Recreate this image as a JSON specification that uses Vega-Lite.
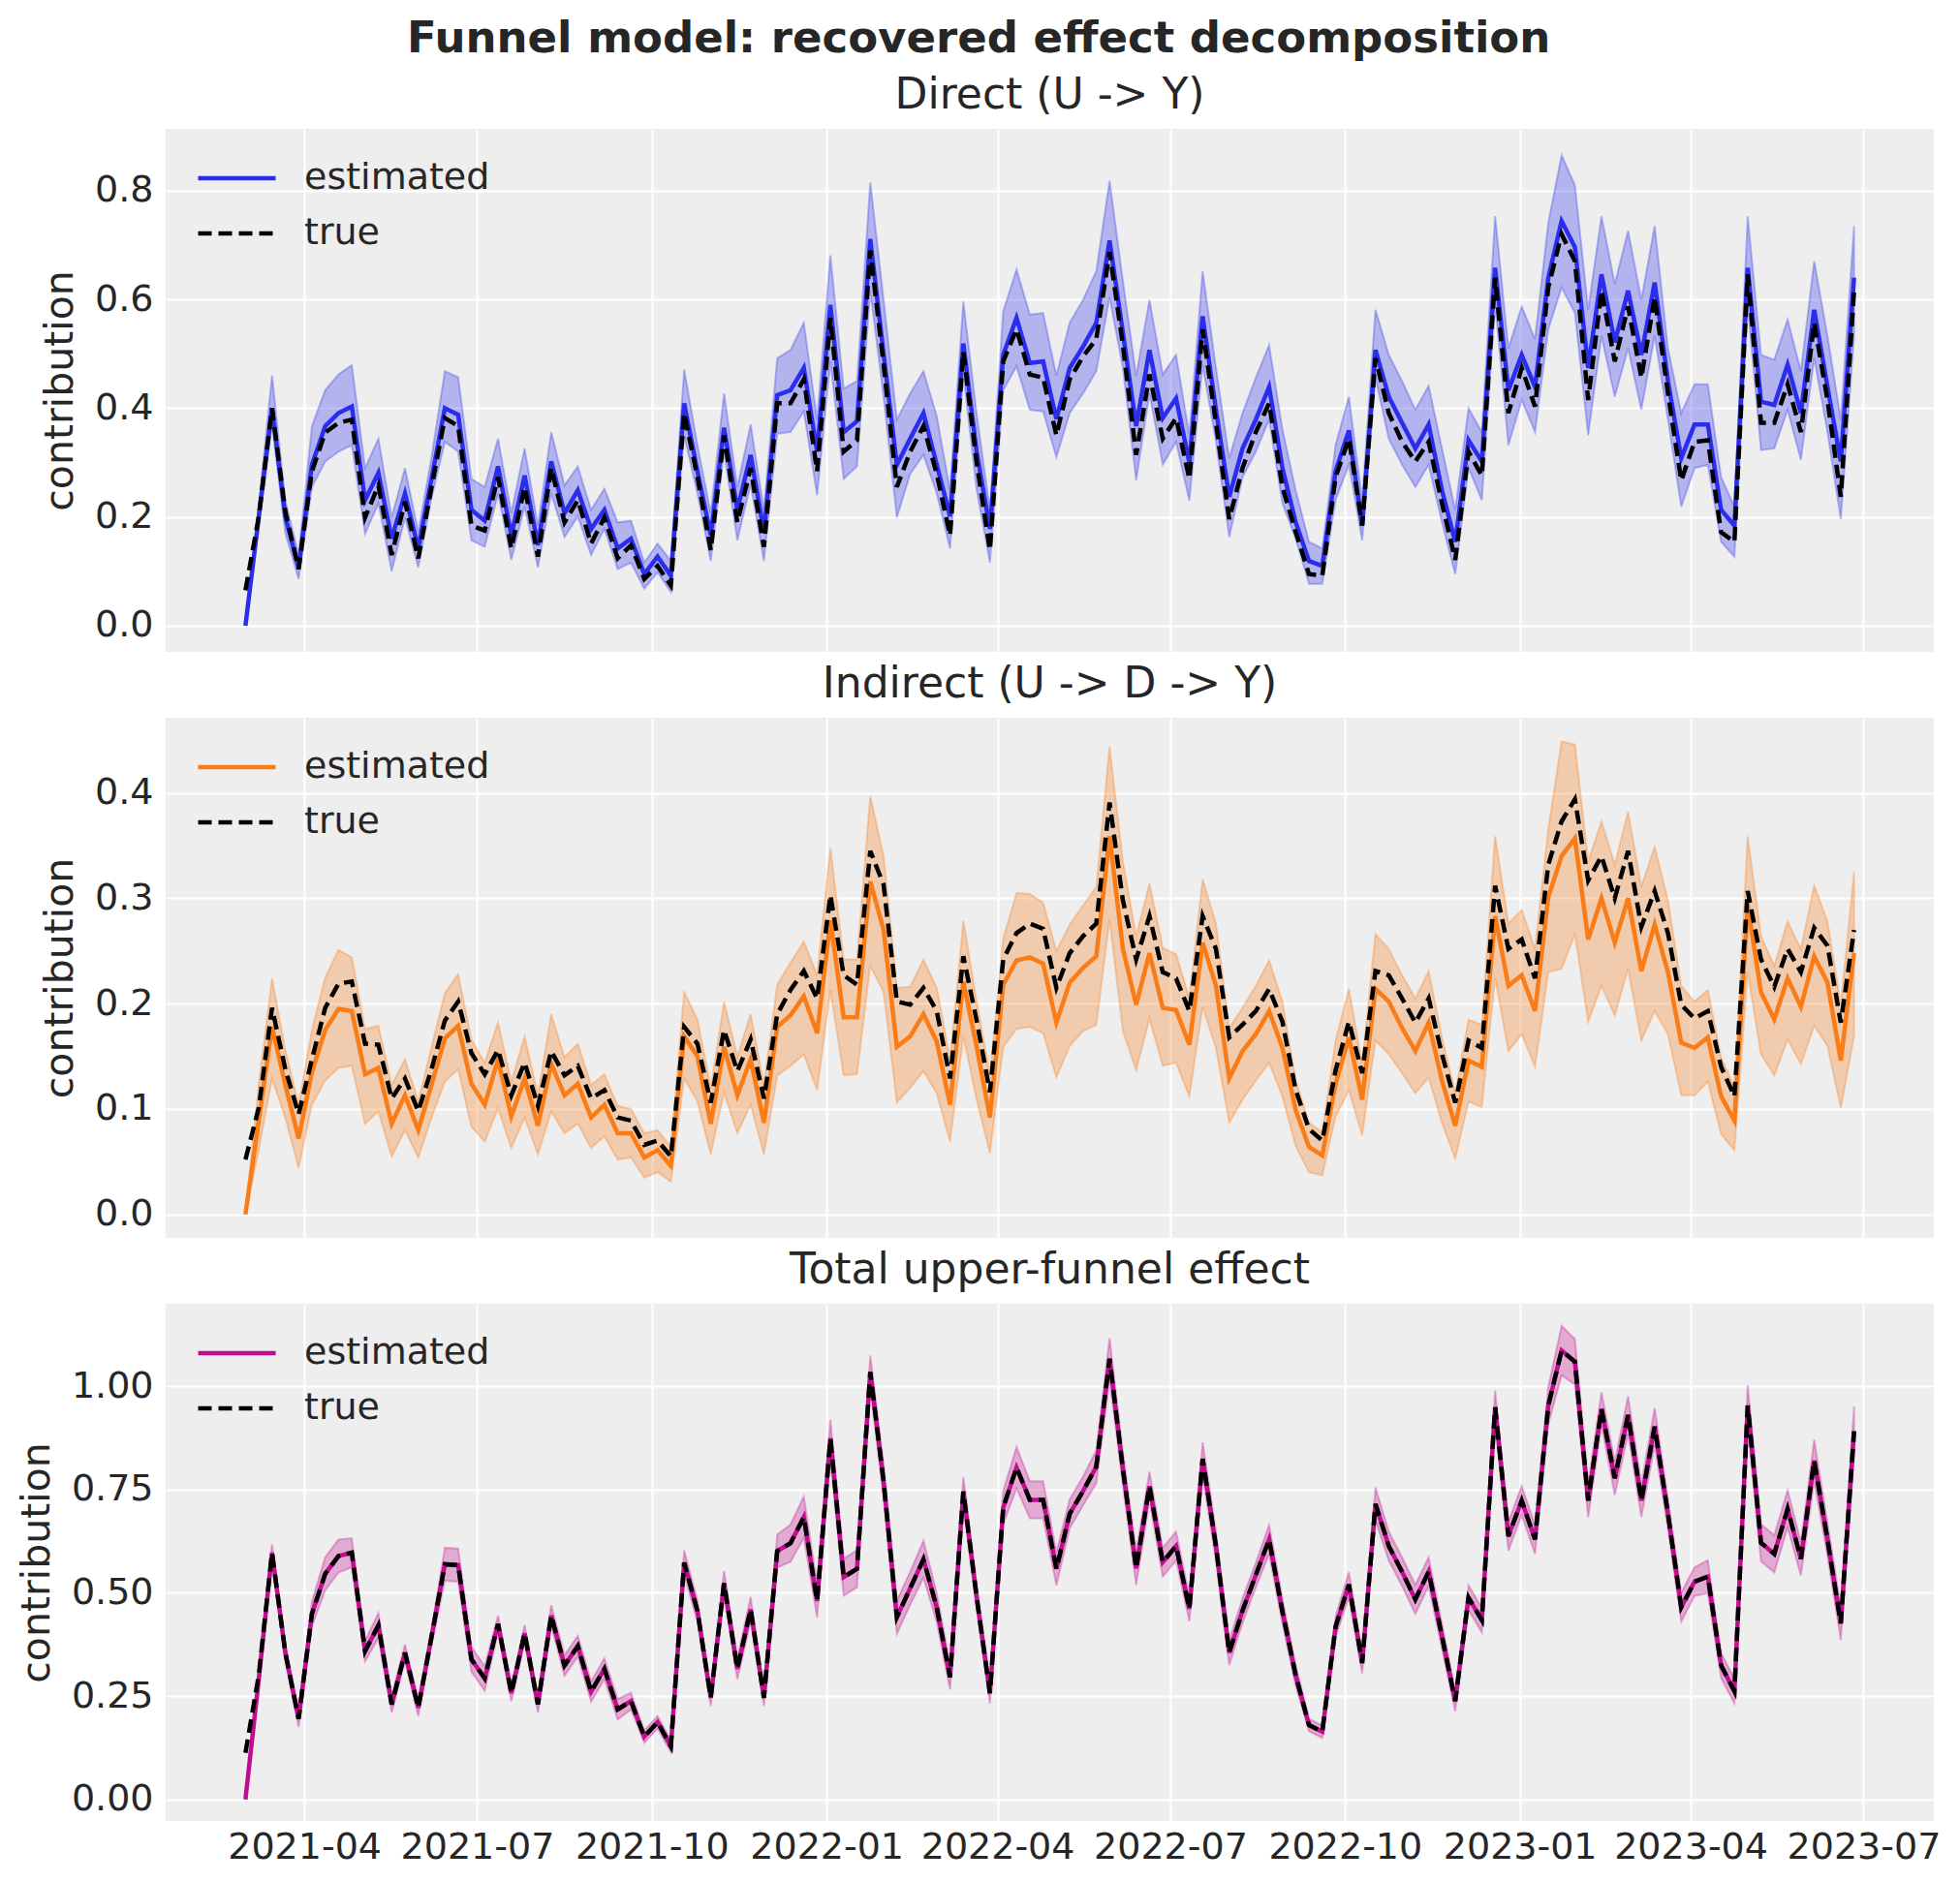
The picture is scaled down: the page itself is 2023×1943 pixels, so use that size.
{
  "$schema": "https://vega.github.io/schema/vega-lite/v6.json",
  "background": "white",
  "padding": {"left": 17, "top": 18, "right": 20, "bottom": 10},
  "title": {
    "text": "Funnel model: recovered effect decomposition",
    "fontSize": 45,
    "fontWeight": "bold",
    "anchor": "middle",
    "offset": 14
  },
  "datasets": {
    "direct": [
      {"date":"2021-03-01","estimated":0,"true":0.065,"lower":0,"upper":0.005},
      {"date":"2021-03-08","estimated":0.2,"true":0.2,"lower":0.18,"upper":0.22},
      {"date":"2021-03-15","estimated":0.4,"true":0.4,"lower":0.37,"upper":0.46},
      {"date":"2021-03-22","estimated":0.2,"true":0.21,"lower":0.17,"upper":0.23},
      {"date":"2021-03-29","estimated":0.107,"true":0.104,"lower":0.086,"upper":0.13},
      {"date":"2021-04-05","estimated":0.296,"true":0.284,"lower":0.255,"upper":0.367},
      {"date":"2021-04-12","estimated":0.367,"true":0.355,"lower":0.302,"upper":0.433},
      {"date":"2021-04-19","estimated":0.391,"true":0.373,"lower":0.32,"upper":0.462},
      {"date":"2021-04-26","estimated":0.403,"true":0.379,"lower":0.332,"upper":0.479},
      {"date":"2021-05-03","estimated":0.231,"true":0.199,"lower":0.169,"upper":0.29},
      {"date":"2021-05-10","estimated":0.281,"true":0.258,"lower":0.225,"upper":0.344},
      {"date":"2021-05-17","estimated":0.16,"true":0.13,"lower":0.1,"upper":0.199},
      {"date":"2021-05-24","estimated":0.243,"true":0.228,"lower":0.199,"upper":0.29},
      {"date":"2021-05-31","estimated":0.142,"true":0.124,"lower":0.107,"upper":0.172},
      {"date":"2021-06-07","estimated":0.27,"true":0.255,"lower":0.235,"upper":0.31},
      {"date":"2021-06-14","estimated":0.4,"true":0.382,"lower":0.338,"upper":0.468},
      {"date":"2021-06-21","estimated":0.388,"true":0.367,"lower":0.32,"upper":0.457},
      {"date":"2021-06-28","estimated":0.213,"true":0.184,"lower":0.157,"upper":0.27},
      {"date":"2021-07-05","estimated":0.193,"true":0.175,"lower":0.145,"upper":0.255},
      {"date":"2021-07-12","estimated":0.293,"true":0.273,"lower":0.243,"upper":0.344},
      {"date":"2021-07-19","estimated":0.166,"true":0.142,"lower":0.121,"upper":0.207},
      {"date":"2021-07-26","estimated":0.276,"true":0.255,"lower":0.219,"upper":0.326},
      {"date":"2021-08-02","estimated":0.148,"true":0.127,"lower":0.107,"upper":0.184},
      {"date":"2021-08-09","estimated":0.302,"true":0.29,"lower":0.243,"upper":0.356},
      {"date":"2021-08-16","estimated":0.207,"true":0.19,"lower":0.163,"upper":0.258},
      {"date":"2021-08-23","estimated":0.249,"true":0.231,"lower":0.201,"upper":0.293},
      {"date":"2021-08-30","estimated":0.178,"true":0.151,"lower":0.13,"upper":0.213},
      {"date":"2021-09-06","estimated":0.213,"true":0.199,"lower":0.178,"upper":0.252},
      {"date":"2021-09-13","estimated":0.142,"true":0.124,"lower":0.104,"upper":0.19},
      {"date":"2021-09-20","estimated":0.16,"true":0.148,"lower":0.116,"upper":0.193},
      {"date":"2021-09-27","estimated":0.095,"true":0.086,"lower":0.068,"upper":0.116},
      {"date":"2021-10-04","estimated":0.127,"true":0.11,"lower":0.098,"upper":0.151},
      {"date":"2021-10-11","estimated":0.092,"true":0.074,"lower":0.062,"upper":0.119},
      {"date":"2021-10-18","estimated":0.409,"true":0.391,"lower":0.35,"upper":0.471},
      {"date":"2021-10-25","estimated":0.284,"true":0.273,"lower":0.243,"upper":0.332},
      {"date":"2021-11-01","estimated":0.166,"true":0.139,"lower":0.119,"upper":0.207},
      {"date":"2021-11-08","estimated":0.364,"true":0.35,"lower":0.32,"upper":0.427},
      {"date":"2021-11-15","estimated":0.213,"true":0.19,"lower":0.157,"upper":0.255},
      {"date":"2021-11-22","estimated":0.314,"true":0.29,"lower":0.26,"upper":0.37},
      {"date":"2021-11-29","estimated":0.172,"true":0.145,"lower":0.119,"upper":0.213},
      {"date":"2021-12-06","estimated":0.424,"true":0.409,"lower":0.353,"upper":0.492},
      {"date":"2021-12-13","estimated":0.433,"true":0.409,"lower":0.356,"upper":0.507},
      {"date":"2021-12-20","estimated":0.474,"true":0.453,"lower":0.394,"upper":0.557},
      {"date":"2021-12-27","estimated":0.32,"true":0.284,"lower":0.24,"upper":0.379},
      {"date":"2022-01-03","estimated":0.59,"true":0.566,"lower":0.486,"upper":0.681},
      {"date":"2022-01-10","estimated":0.356,"true":0.32,"lower":0.27,"upper":0.436},
      {"date":"2022-01-17","estimated":0.376,"true":0.341,"lower":0.293,"upper":0.45},
      {"date":"2022-01-24","estimated":0.711,"true":0.69,"lower":0.616,"upper":0.815},
      {"date":"2022-01-31","estimated":0.5,"true":0.48,"lower":0.42,"upper":0.6},
      {"date":"2022-02-07","estimated":0.296,"true":0.255,"lower":0.199,"upper":0.379},
      {"date":"2022-02-14","estimated":0.344,"true":0.32,"lower":0.279,"upper":0.427},
      {"date":"2022-02-21","estimated":0.391,"true":0.367,"lower":0.314,"upper":0.468},
      {"date":"2022-02-28","estimated":0.296,"true":0.279,"lower":0.243,"upper":0.385},
      {"date":"2022-03-07","estimated":0.201,"true":0.166,"lower":0.142,"upper":0.249},
      {"date":"2022-03-14","estimated":0.519,"true":0.504,"lower":0.462,"upper":0.596},
      {"date":"2022-03-21","estimated":0.32,"true":0.3,"lower":0.25,"upper":0.39},
      {"date":"2022-03-28","estimated":0.178,"true":0.139,"lower":0.116,"upper":0.213},
      {"date":"2022-04-04","estimated":0.498,"true":0.486,"lower":0.433,"upper":0.578},
      {"date":"2022-04-11","estimated":0.566,"true":0.545,"lower":0.477,"upper":0.655},
      {"date":"2022-04-18","estimated":0.483,"true":0.462,"lower":0.397,"upper":0.572},
      {"date":"2022-04-25","estimated":0.486,"true":0.456,"lower":0.394,"upper":0.575},
      {"date":"2022-05-02","estimated":0.38,"true":0.35,"lower":0.31,"upper":0.46},
      {"date":"2022-05-09","estimated":0.474,"true":0.453,"lower":0.391,"upper":0.557},
      {"date":"2022-05-16","estimated":0.513,"true":0.495,"lower":0.427,"upper":0.599},
      {"date":"2022-05-23","estimated":0.557,"true":0.527,"lower":0.468,"upper":0.652},
      {"date":"2022-05-30","estimated":0.708,"true":0.687,"lower":0.604,"upper":0.818},
      {"date":"2022-06-06","estimated":0.539,"true":0.516,"lower":0.474,"upper":0.634},
      {"date":"2022-06-13","estimated":0.367,"true":0.314,"lower":0.267,"upper":0.459},
      {"date":"2022-06-20","estimated":0.507,"true":0.462,"lower":0.427,"upper":0.599},
      {"date":"2022-06-27","estimated":0.382,"true":0.344,"lower":0.296,"upper":0.462},
      {"date":"2022-07-04","estimated":0.418,"true":0.382,"lower":0.338,"upper":0.498},
      {"date":"2022-07-11","estimated":0.3,"true":0.27,"lower":0.23,"upper":0.35},
      {"date":"2022-07-18","estimated":0.569,"true":0.545,"lower":0.48,"upper":0.652},
      {"date":"2022-07-25","estimated":0.397,"true":0.373,"lower":0.338,"upper":0.474},
      {"date":"2022-08-01","estimated":0.237,"true":0.196,"lower":0.163,"upper":0.308},
      {"date":"2022-08-08","estimated":0.326,"true":0.29,"lower":0.273,"upper":0.391},
      {"date":"2022-08-15","estimated":0.379,"true":0.356,"lower":0.32,"upper":0.456},
      {"date":"2022-08-22","estimated":0.439,"true":0.409,"lower":0.379,"upper":0.516},
      {"date":"2022-08-29","estimated":0.29,"true":0.255,"lower":0.225,"upper":0.361},
      {"date":"2022-09-05","estimated":0.19,"true":0.172,"lower":0.16,"upper":0.249},
      {"date":"2022-09-12","estimated":0.119,"true":0.095,"lower":0.077,"upper":0.154},
      {"date":"2022-09-19","estimated":0.11,"true":0.092,"lower":0.077,"upper":0.142},
      {"date":"2022-09-26","estimated":0.284,"true":0.273,"lower":0.231,"upper":0.332},
      {"date":"2022-10-03","estimated":0.359,"true":0.344,"lower":0.296,"upper":0.421},
      {"date":"2022-10-10","estimated":0.184,"true":0.184,"lower":0.157,"upper":0.231},
      {"date":"2022-10-17","estimated":0.507,"true":0.492,"lower":0.456,"upper":0.581},
      {"date":"2022-10-24","estimated":0.421,"true":0.391,"lower":0.344,"upper":0.498},
      {"date":"2022-10-31","estimated":0.373,"true":0.338,"lower":0.296,"upper":0.45},
      {"date":"2022-11-07","estimated":0.326,"true":0.302,"lower":0.255,"upper":0.397},
      {"date":"2022-11-14","estimated":0.37,"true":0.338,"lower":0.296,"upper":0.441},
      {"date":"2022-11-21","estimated":0.249,"true":0.225,"lower":0.19,"upper":0.326},
      {"date":"2022-11-28","estimated":0.154,"true":0.121,"lower":0.095,"upper":0.213},
      {"date":"2022-12-05","estimated":0.341,"true":0.32,"lower":0.29,"upper":0.4},
      {"date":"2022-12-12","estimated":0.302,"true":0.276,"lower":0.231,"upper":0.356},
      {"date":"2022-12-19","estimated":0.658,"true":0.64,"lower":0.593,"upper":0.753},
      {"date":"2022-12-26","estimated":0.433,"true":0.391,"lower":0.332,"upper":0.51},
      {"date":"2023-01-02","estimated":0.498,"true":0.474,"lower":0.415,"upper":0.587},
      {"date":"2023-01-09","estimated":0.439,"true":0.403,"lower":0.356,"upper":0.527},
      {"date":"2023-01-16","estimated":0.64,"true":0.622,"lower":0.545,"upper":0.741},
      {"date":"2023-01-23","estimated":0.744,"true":0.72,"lower":0.622,"upper":0.865},
      {"date":"2023-01-30","estimated":0.696,"true":0.67,"lower":0.575,"upper":0.81},
      {"date":"2023-02-06","estimated":0.474,"true":0.415,"lower":0.35,"upper":0.581},
      {"date":"2023-02-13","estimated":0.646,"true":0.616,"lower":0.533,"upper":0.753},
      {"date":"2023-02-20","estimated":0.521,"true":0.486,"lower":0.421,"upper":0.628},
      {"date":"2023-02-27","estimated":0.616,"true":0.587,"lower":0.51,"upper":0.726},
      {"date":"2023-03-06","estimated":0.498,"true":0.456,"lower":0.397,"upper":0.599},
      {"date":"2023-03-13","estimated":0.631,"true":0.604,"lower":0.533,"upper":0.735},
      {"date":"2023-03-20","estimated":0.45,"true":0.427,"lower":0.379,"upper":0.51},
      {"date":"2023-03-27","estimated":0.308,"true":0.267,"lower":0.219,"upper":0.391},
      {"date":"2023-04-03","estimated":0.37,"true":0.338,"lower":0.29,"upper":0.444},
      {"date":"2023-04-10","estimated":0.37,"true":0.341,"lower":0.296,"upper":0.444},
      {"date":"2023-04-17","estimated":0.213,"true":0.172,"lower":0.154,"upper":0.273},
      {"date":"2023-04-24","estimated":0.184,"true":0.154,"lower":0.127,"upper":0.219},
      {"date":"2023-05-01","estimated":0.658,"true":0.646,"lower":0.587,"upper":0.753},
      {"date":"2023-05-08","estimated":0.412,"true":0.373,"lower":0.323,"upper":0.498},
      {"date":"2023-05-15","estimated":0.406,"true":0.373,"lower":0.326,"upper":0.489},
      {"date":"2023-05-22","estimated":0.48,"true":0.444,"lower":0.397,"upper":0.563},
      {"date":"2023-05-29","estimated":0.391,"true":0.356,"lower":0.305,"upper":0.468},
      {"date":"2023-06-05","estimated":0.581,"true":0.557,"lower":0.492,"upper":0.67},
      {"date":"2023-06-12","estimated":0.439,"true":0.415,"lower":0.356,"upper":0.533},
      {"date":"2023-06-19","estimated":0.302,"true":0.237,"lower":0.196,"upper":0.379},
      {"date":"2023-06-26","estimated":0.64,"true":0.616,"lower":0.533,"upper":0.735}
    ],
    "indirect": [
      {"date":"2021-03-01","estimated":0,"true":0.052,"lower":0,"upper":0.003},
      {"date":"2021-03-08","estimated":0.089,"true":0.101,"lower":0.061,"upper":0.123},
      {"date":"2021-03-15","estimated":0.178,"true":0.196,"lower":0.129,"upper":0.224},
      {"date":"2021-03-22","estimated":0.123,"true":0.138,"lower":0.092,"upper":0.156},
      {"date":"2021-03-29","estimated":0.072,"true":0.095,"lower":0.044,"upper":0.104},
      {"date":"2021-04-05","estimated":0.135,"true":0.147,"lower":0.104,"upper":0.175},
      {"date":"2021-04-12","estimated":0.175,"true":0.196,"lower":0.127,"upper":0.225},
      {"date":"2021-04-19","estimated":0.195,"true":0.219,"lower":0.139,"upper":0.251},
      {"date":"2021-04-26","estimated":0.193,"true":0.221,"lower":0.141,"upper":0.244},
      {"date":"2021-05-03","estimated":0.133,"true":0.162,"lower":0.086,"upper":0.176},
      {"date":"2021-05-10","estimated":0.139,"true":0.161,"lower":0.098,"upper":0.179},
      {"date":"2021-05-17","estimated":0.086,"true":0.11,"lower":0.055,"upper":0.123},
      {"date":"2021-05-24","estimated":0.113,"true":0.129,"lower":0.08,"upper":0.147},
      {"date":"2021-05-31","estimated":0.08,"true":0.098,"lower":0.054,"upper":0.107},
      {"date":"2021-06-07","estimated":0.123,"true":0.138,"lower":0.092,"upper":0.159},
      {"date":"2021-06-14","estimated":0.167,"true":0.184,"lower":0.126,"upper":0.21},
      {"date":"2021-06-21","estimated":0.179,"true":0.202,"lower":0.138,"upper":0.228},
      {"date":"2021-06-28","estimated":0.124,"true":0.153,"lower":0.083,"upper":0.166},
      {"date":"2021-07-05","estimated":0.104,"true":0.133,"lower":0.069,"upper":0.144},
      {"date":"2021-07-12","estimated":0.147,"true":0.156,"lower":0.101,"upper":0.182},
      {"date":"2021-07-19","estimated":0.093,"true":0.113,"lower":0.063,"upper":0.126},
      {"date":"2021-07-26","estimated":0.129,"true":0.144,"lower":0.092,"upper":0.169},
      {"date":"2021-08-02","estimated":0.084,"true":0.103,"lower":0.057,"upper":0.113},
      {"date":"2021-08-09","estimated":0.143,"true":0.155,"lower":0.098,"upper":0.19},
      {"date":"2021-08-16","estimated":0.113,"true":0.132,"lower":0.077,"upper":0.149},
      {"date":"2021-08-23","estimated":0.124,"true":0.141,"lower":0.086,"upper":0.162},
      {"date":"2021-08-30","estimated":0.092,"true":0.11,"lower":0.063,"upper":0.123},
      {"date":"2021-09-06","estimated":0.104,"true":0.118,"lower":0.074,"upper":0.133},
      {"date":"2021-09-13","estimated":0.077,"true":0.092,"lower":0.052,"upper":0.103},
      {"date":"2021-09-20","estimated":0.077,"true":0.089,"lower":0.054,"upper":0.1},
      {"date":"2021-09-27","estimated":0.054,"true":0.066,"lower":0.035,"upper":0.077},
      {"date":"2021-10-04","estimated":0.061,"true":0.07,"lower":0.04,"upper":0.08},
      {"date":"2021-10-11","estimated":0.046,"true":0.055,"lower":0.031,"upper":0.064},
      {"date":"2021-10-18","estimated":0.169,"true":0.178,"lower":0.129,"upper":0.211},
      {"date":"2021-10-25","estimated":0.15,"true":0.162,"lower":0.107,"upper":0.185},
      {"date":"2021-11-01","estimated":0.086,"true":0.106,"lower":0.057,"upper":0.12},
      {"date":"2021-11-08","estimated":0.159,"true":0.175,"lower":0.116,"upper":0.202},
      {"date":"2021-11-15","estimated":0.113,"true":0.136,"lower":0.077,"upper":0.15},
      {"date":"2021-11-22","estimated":0.147,"true":0.166,"lower":0.104,"upper":0.19},
      {"date":"2021-11-29","estimated":0.087,"true":0.11,"lower":0.057,"upper":0.123},
      {"date":"2021-12-06","estimated":0.178,"true":0.19,"lower":0.132,"upper":0.218},
      {"date":"2021-12-13","estimated":0.189,"true":0.213,"lower":0.141,"upper":0.239},
      {"date":"2021-12-20","estimated":0.207,"true":0.231,"lower":0.152,"upper":0.259},
      {"date":"2021-12-27","estimated":0.172,"true":0.205,"lower":0.118,"upper":0.227},
      {"date":"2022-01-03","estimated":0.279,"true":0.303,"lower":0.213,"upper":0.348},
      {"date":"2022-01-10","estimated":0.187,"true":0.227,"lower":0.132,"upper":0.242},
      {"date":"2022-01-17","estimated":0.187,"true":0.218,"lower":0.133,"upper":0.242},
      {"date":"2022-01-24","estimated":0.316,"true":0.345,"lower":0.236,"upper":0.397},
      {"date":"2022-01-31","estimated":0.27,"true":0.313,"lower":0.211,"upper":0.34},
      {"date":"2022-02-07","estimated":0.159,"true":0.202,"lower":0.106,"upper":0.215},
      {"date":"2022-02-14","estimated":0.169,"true":0.199,"lower":0.12,"upper":0.216},
      {"date":"2022-02-21","estimated":0.19,"true":0.215,"lower":0.136,"upper":0.242},
      {"date":"2022-02-28","estimated":0.164,"true":0.193,"lower":0.115,"upper":0.215},
      {"date":"2022-03-07","estimated":0.104,"true":0.129,"lower":0.069,"upper":0.147},
      {"date":"2022-03-14","estimated":0.221,"true":0.245,"lower":0.169,"upper":0.279},
      {"date":"2022-03-21","estimated":0.159,"true":0.184,"lower":0.109,"upper":0.202},
      {"date":"2022-03-28","estimated":0.092,"true":0.116,"lower":0.058,"upper":0.132},
      {"date":"2022-04-04","estimated":0.218,"true":0.242,"lower":0.159,"upper":0.262},
      {"date":"2022-04-11","estimated":0.241,"true":0.267,"lower":0.176,"upper":0.305},
      {"date":"2022-04-18","estimated":0.244,"true":0.276,"lower":0.178,"upper":0.304},
      {"date":"2022-04-25","estimated":0.238,"true":0.271,"lower":0.172,"upper":0.296},
      {"date":"2022-05-02","estimated":0.182,"true":0.215,"lower":0.13,"upper":0.25},
      {"date":"2022-05-09","estimated":0.22,"true":0.248,"lower":0.16,"upper":0.275},
      {"date":"2022-05-16","estimated":0.234,"true":0.264,"lower":0.174,"upper":0.293},
      {"date":"2022-05-23","estimated":0.245,"true":0.276,"lower":0.18,"upper":0.311},
      {"date":"2022-05-30","estimated":0.359,"true":0.391,"lower":0.28,"upper":0.444},
      {"date":"2022-06-06","estimated":0.252,"true":0.298,"lower":0.174,"upper":0.335},
      {"date":"2022-06-13","estimated":0.199,"true":0.242,"lower":0.137,"upper":0.264},
      {"date":"2022-06-20","estimated":0.248,"true":0.283,"lower":0.186,"upper":0.314},
      {"date":"2022-06-27","estimated":0.196,"true":0.23,"lower":0.141,"upper":0.253},
      {"date":"2022-07-04","estimated":0.194,"true":0.224,"lower":0.144,"upper":0.247},
      {"date":"2022-07-11","estimated":0.161,"true":0.193,"lower":0.112,"upper":0.205},
      {"date":"2022-07-18","estimated":0.258,"true":0.283,"lower":0.197,"upper":0.318},
      {"date":"2022-07-25","estimated":0.217,"true":0.252,"lower":0.158,"upper":0.276},
      {"date":"2022-08-01","estimated":0.129,"true":0.168,"lower":0.087,"upper":0.177},
      {"date":"2022-08-08","estimated":0.155,"true":0.18,"lower":0.109,"upper":0.196},
      {"date":"2022-08-15","estimated":0.171,"true":0.193,"lower":0.127,"upper":0.217},
      {"date":"2022-08-22","estimated":0.193,"true":0.214,"lower":0.144,"upper":0.241},
      {"date":"2022-08-29","estimated":0.158,"true":0.183,"lower":0.112,"upper":0.202},
      {"date":"2022-09-05","estimated":0.099,"true":0.118,"lower":0.065,"upper":0.127},
      {"date":"2022-09-12","estimated":0.064,"true":0.081,"lower":0.04,"upper":0.087},
      {"date":"2022-09-19","estimated":0.056,"true":0.07,"lower":0.037,"upper":0.078},
      {"date":"2022-09-26","estimated":0.124,"true":0.137,"lower":0.093,"upper":0.165},
      {"date":"2022-10-03","estimated":0.168,"true":0.183,"lower":0.118,"upper":0.214},
      {"date":"2022-10-10","estimated":0.109,"true":0.134,"lower":0.075,"upper":0.143},
      {"date":"2022-10-17","estimated":0.214,"true":0.231,"lower":0.165,"upper":0.266},
      {"date":"2022-10-24","estimated":0.202,"true":0.227,"lower":0.152,"upper":0.252},
      {"date":"2022-10-31","estimated":0.177,"true":0.205,"lower":0.134,"upper":0.227},
      {"date":"2022-11-07","estimated":0.155,"true":0.182,"lower":0.115,"upper":0.205},
      {"date":"2022-11-14","estimated":0.182,"true":0.205,"lower":0.13,"upper":0.231},
      {"date":"2022-11-21","estimated":0.127,"true":0.152,"lower":0.087,"upper":0.168},
      {"date":"2022-11-28","estimated":0.084,"true":0.106,"lower":0.053,"upper":0.115},
      {"date":"2022-12-05","estimated":0.146,"true":0.165,"lower":0.107,"upper":0.185},
      {"date":"2022-12-12","estimated":0.14,"true":0.158,"lower":0.102,"upper":0.18},
      {"date":"2022-12-19","estimated":0.283,"true":0.312,"lower":0.225,"upper":0.359},
      {"date":"2022-12-26","estimated":0.217,"true":0.252,"lower":0.155,"upper":0.276},
      {"date":"2023-01-02","estimated":0.227,"true":0.261,"lower":0.171,"upper":0.289},
      {"date":"2023-01-09","estimated":0.193,"true":0.224,"lower":0.14,"upper":0.252},
      {"date":"2023-01-16","estimated":0.301,"true":0.332,"lower":0.23,"upper":0.366},
      {"date":"2023-01-23","estimated":0.34,"true":0.373,"lower":0.233,"upper":0.449},
      {"date":"2023-01-30","estimated":0.357,"true":0.394,"lower":0.266,"upper":0.446},
      {"date":"2023-02-06","estimated":0.261,"true":0.317,"lower":0.183,"upper":0.335},
      {"date":"2023-02-13","estimated":0.3,"true":0.34,"lower":0.217,"upper":0.373},
      {"date":"2023-02-20","estimated":0.258,"true":0.3,"lower":0.189,"upper":0.332},
      {"date":"2023-02-27","estimated":0.3,"true":0.345,"lower":0.233,"upper":0.382},
      {"date":"2023-03-06","estimated":0.231,"true":0.273,"lower":0.165,"upper":0.311},
      {"date":"2023-03-13","estimated":0.275,"true":0.307,"lower":0.193,"upper":0.349},
      {"date":"2023-03-20","estimated":0.23,"true":0.267,"lower":0.171,"upper":0.298},
      {"date":"2023-03-27","estimated":0.163,"true":0.199,"lower":0.113,"upper":0.217},
      {"date":"2023-04-03","estimated":0.158,"true":0.186,"lower":0.113,"upper":0.202},
      {"date":"2023-04-10","estimated":0.168,"true":0.193,"lower":0.126,"upper":0.213},
      {"date":"2023-04-17","estimated":0.112,"true":0.14,"lower":0.076,"upper":0.149},
      {"date":"2023-04-24","estimated":0.089,"true":0.112,"lower":0.061,"upper":0.121},
      {"date":"2023-05-01","estimated":0.293,"true":0.307,"lower":0.23,"upper":0.359},
      {"date":"2023-05-08","estimated":0.211,"true":0.242,"lower":0.152,"upper":0.264},
      {"date":"2023-05-15","estimated":0.185,"true":0.216,"lower":0.132,"upper":0.236},
      {"date":"2023-05-22","estimated":0.224,"true":0.252,"lower":0.166,"upper":0.278},
      {"date":"2023-05-29","estimated":0.197,"true":0.23,"lower":0.143,"upper":0.252},
      {"date":"2023-06-05","estimated":0.245,"true":0.272,"lower":0.179,"upper":0.312},
      {"date":"2023-06-12","estimated":0.22,"true":0.255,"lower":0.16,"upper":0.278},
      {"date":"2023-06-19","estimated":0.146,"true":0.182,"lower":0.101,"upper":0.199},
      {"date":"2023-06-26","estimated":0.248,"true":0.27,"lower":0.169,"upper":0.325}
    ],
    "total": [
      {"date":"2021-03-01","estimated":0,"true":0.113,"lower":0,"upper":0.005},
      {"date":"2021-03-08","estimated":0.29,"true":0.3,"lower":0.27,"upper":0.31},
      {"date":"2021-03-15","estimated":0.597,"true":0.597,"lower":0.577,"upper":0.617},
      {"date":"2021-03-22","estimated":0.355,"true":0.355,"lower":0.335,"upper":0.375},
      {"date":"2021-03-29","estimated":0.195,"true":0.195,"lower":0.175,"upper":0.215},
      {"date":"2021-04-05","estimated":0.449,"true":0.449,"lower":0.419,"upper":0.479},
      {"date":"2021-04-12","estimated":0.546,"true":0.546,"lower":0.506,"upper":0.586},
      {"date":"2021-04-19","estimated":0.589,"true":0.589,"lower":0.549,"upper":0.629},
      {"date":"2021-04-26","estimated":0.597,"true":0.597,"lower":0.562,"upper":0.632},
      {"date":"2021-05-03","estimated":0.359,"true":0.359,"lower":0.334,"upper":0.384},
      {"date":"2021-05-10","estimated":0.421,"true":0.421,"lower":0.391,"upper":0.451},
      {"date":"2021-05-17","estimated":0.23,"true":0.23,"lower":0.21,"upper":0.25},
      {"date":"2021-05-24","estimated":0.355,"true":0.355,"lower":0.335,"upper":0.375},
      {"date":"2021-05-31","estimated":0.222,"true":0.222,"lower":0.202,"upper":0.242},
      {"date":"2021-06-07","estimated":0.394,"true":0.394,"lower":0.374,"upper":0.414},
      {"date":"2021-06-14","estimated":0.569,"true":0.569,"lower":0.529,"upper":0.609},
      {"date":"2021-06-21","estimated":0.567,"true":0.567,"lower":0.527,"upper":0.607},
      {"date":"2021-06-28","estimated":0.339,"true":0.339,"lower":0.309,"upper":0.369},
      {"date":"2021-07-05","estimated":0.293,"true":0.293,"lower":0.263,"upper":0.323},
      {"date":"2021-07-12","estimated":0.425,"true":0.425,"lower":0.405,"upper":0.445},
      {"date":"2021-07-19","estimated":0.257,"true":0.257,"lower":0.237,"upper":0.277},
      {"date":"2021-07-26","estimated":0.402,"true":0.402,"lower":0.382,"upper":0.422},
      {"date":"2021-08-02","estimated":0.23,"true":0.23,"lower":0.21,"upper":0.25},
      {"date":"2021-08-09","estimated":0.445,"true":0.445,"lower":0.42,"upper":0.47},
      {"date":"2021-08-16","estimated":0.324,"true":0.324,"lower":0.299,"upper":0.349},
      {"date":"2021-08-23","estimated":0.371,"true":0.371,"lower":0.346,"upper":0.396},
      {"date":"2021-08-30","estimated":0.261,"true":0.261,"lower":0.236,"upper":0.286},
      {"date":"2021-09-06","estimated":0.316,"true":0.316,"lower":0.291,"upper":0.341},
      {"date":"2021-09-13","estimated":0.218,"true":0.218,"lower":0.193,"upper":0.243},
      {"date":"2021-09-20","estimated":0.238,"true":0.238,"lower":0.218,"upper":0.258},
      {"date":"2021-09-27","estimated":0.152,"true":0.152,"lower":0.137,"upper":0.167},
      {"date":"2021-10-04","estimated":0.187,"true":0.187,"lower":0.172,"upper":0.202},
      {"date":"2021-10-11","estimated":0.129,"true":0.129,"lower":0.114,"upper":0.144},
      {"date":"2021-10-18","estimated":0.573,"true":0.573,"lower":0.543,"upper":0.603},
      {"date":"2021-10-25","estimated":0.456,"true":0.456,"lower":0.431,"upper":0.481},
      {"date":"2021-11-01","estimated":0.246,"true":0.246,"lower":0.226,"upper":0.266},
      {"date":"2021-11-08","estimated":0.523,"true":0.523,"lower":0.493,"upper":0.553},
      {"date":"2021-11-15","estimated":0.316,"true":0.316,"lower":0.291,"upper":0.341},
      {"date":"2021-11-22","estimated":0.46,"true":0.46,"lower":0.43,"upper":0.49},
      {"date":"2021-11-29","estimated":0.246,"true":0.246,"lower":0.226,"upper":0.266},
      {"date":"2021-12-06","estimated":0.601,"true":0.601,"lower":0.561,"upper":0.641},
      {"date":"2021-12-13","estimated":0.62,"true":0.62,"lower":0.575,"upper":0.665},
      {"date":"2021-12-20","estimated":0.683,"true":0.683,"lower":0.633,"upper":0.733},
      {"date":"2021-12-27","estimated":0.48,"true":0.48,"lower":0.44,"upper":0.52},
      {"date":"2022-01-03","estimated":0.874,"true":0.874,"lower":0.829,"upper":0.919},
      {"date":"2022-01-10","estimated":0.538,"true":0.538,"lower":0.493,"upper":0.583},
      {"date":"2022-01-17","estimated":0.558,"true":0.558,"lower":0.513,"upper":0.603},
      {"date":"2022-01-24","estimated":1.034,"true":1.034,"lower":0.994,"upper":1.074},
      {"date":"2022-01-31","estimated":0.77,"true":0.77,"lower":0.73,"upper":0.81},
      {"date":"2022-02-07","estimated":0.441,"true":0.441,"lower":0.401,"upper":0.481},
      {"date":"2022-02-14","estimated":0.511,"true":0.511,"lower":0.471,"upper":0.551},
      {"date":"2022-02-21","estimated":0.581,"true":0.581,"lower":0.536,"upper":0.626},
      {"date":"2022-02-28","estimated":0.464,"true":0.464,"lower":0.429,"upper":0.499},
      {"date":"2022-03-07","estimated":0.296,"true":0.296,"lower":0.266,"upper":0.326},
      {"date":"2022-03-14","estimated":0.745,"true":0.745,"lower":0.71,"upper":0.78},
      {"date":"2022-03-21","estimated":0.49,"true":0.49,"lower":0.46,"upper":0.52},
      {"date":"2022-03-28","estimated":0.257,"true":0.257,"lower":0.232,"upper":0.282},
      {"date":"2022-04-04","estimated":0.706,"true":0.706,"lower":0.666,"upper":0.746},
      {"date":"2022-04-11","estimated":0.803,"true":0.803,"lower":0.753,"upper":0.853},
      {"date":"2022-04-18","estimated":0.725,"true":0.725,"lower":0.68,"upper":0.77},
      {"date":"2022-04-25","estimated":0.725,"true":0.725,"lower":0.68,"upper":0.77},
      {"date":"2022-05-02","estimated":0.558,"true":0.558,"lower":0.518,"upper":0.598},
      {"date":"2022-05-09","estimated":0.691,"true":0.691,"lower":0.656,"upper":0.726},
      {"date":"2022-05-16","estimated":0.746,"true":0.746,"lower":0.711,"upper":0.781},
      {"date":"2022-05-23","estimated":0.805,"true":0.805,"lower":0.765,"upper":0.845},
      {"date":"2022-05-30","estimated":1.066,"true":1.066,"lower":1.016,"upper":1.116},
      {"date":"2022-06-06","estimated":0.8,"true":0.8,"lower":0.76,"upper":0.84},
      {"date":"2022-06-13","estimated":0.559,"true":0.559,"lower":0.519,"upper":0.599},
      {"date":"2022-06-20","estimated":0.758,"true":0.758,"lower":0.723,"upper":0.793},
      {"date":"2022-06-27","estimated":0.574,"true":0.574,"lower":0.539,"upper":0.609},
      {"date":"2022-07-04","estimated":0.613,"true":0.613,"lower":0.578,"upper":0.648},
      {"date":"2022-07-11","estimated":0.461,"true":0.461,"lower":0.431,"upper":0.491},
      {"date":"2022-07-18","estimated":0.824,"true":0.824,"lower":0.784,"upper":0.864},
      {"date":"2022-07-25","estimated":0.613,"true":0.613,"lower":0.578,"upper":0.648},
      {"date":"2022-08-01","estimated":0.355,"true":0.355,"lower":0.325,"upper":0.385},
      {"date":"2022-08-08","estimated":0.457,"true":0.457,"lower":0.427,"upper":0.487},
      {"date":"2022-08-15","estimated":0.543,"true":0.543,"lower":0.513,"upper":0.573},
      {"date":"2022-08-22","estimated":0.629,"true":0.629,"lower":0.594,"upper":0.664},
      {"date":"2022-08-29","estimated":0.455,"true":0.455,"lower":0.425,"upper":0.485},
      {"date":"2022-09-05","estimated":0.3,"true":0.3,"lower":0.275,"upper":0.325},
      {"date":"2022-09-12","estimated":0.18,"true":0.18,"lower":0.165,"upper":0.195},
      {"date":"2022-09-19","estimated":0.164,"true":0.164,"lower":0.149,"upper":0.179},
      {"date":"2022-09-26","estimated":0.418,"true":0.418,"lower":0.393,"upper":0.443},
      {"date":"2022-10-03","estimated":0.52,"true":0.52,"lower":0.49,"upper":0.55},
      {"date":"2022-10-10","estimated":0.33,"true":0.33,"lower":0.305,"upper":0.355},
      {"date":"2022-10-17","estimated":0.715,"true":0.715,"lower":0.675,"upper":0.755},
      {"date":"2022-10-24","estimated":0.613,"true":0.613,"lower":0.578,"upper":0.648},
      {"date":"2022-10-31","estimated":0.551,"true":0.551,"lower":0.516,"upper":0.586},
      {"date":"2022-11-07","estimated":0.484,"true":0.484,"lower":0.449,"upper":0.519},
      {"date":"2022-11-14","estimated":0.551,"true":0.551,"lower":0.516,"upper":0.586},
      {"date":"2022-11-21","estimated":0.395,"true":0.395,"lower":0.365,"upper":0.425},
      {"date":"2022-11-28","estimated":0.238,"true":0.238,"lower":0.213,"upper":0.263},
      {"date":"2022-12-05","estimated":0.488,"true":0.488,"lower":0.458,"upper":0.518},
      {"date":"2022-12-12","estimated":0.434,"true":0.434,"lower":0.404,"upper":0.464},
      {"date":"2022-12-19","estimated":0.949,"true":0.949,"lower":0.909,"upper":0.989},
      {"date":"2022-12-26","estimated":0.637,"true":0.637,"lower":0.602,"upper":0.672},
      {"date":"2023-01-02","estimated":0.723,"true":0.723,"lower":0.688,"upper":0.758},
      {"date":"2023-01-09","estimated":0.629,"true":0.629,"lower":0.594,"upper":0.664},
      {"date":"2023-01-16","estimated":0.953,"true":0.953,"lower":0.908,"upper":0.998},
      {"date":"2023-01-23","estimated":1.086,"true":1.086,"lower":1.026,"upper":1.146},
      {"date":"2023-01-30","estimated":1.059,"true":1.059,"lower":1.004,"upper":1.114},
      {"date":"2023-02-06","estimated":0.723,"true":0.723,"lower":0.683,"upper":0.763},
      {"date":"2023-02-13","estimated":0.945,"true":0.945,"lower":0.905,"upper":0.985},
      {"date":"2023-02-20","estimated":0.777,"true":0.777,"lower":0.737,"upper":0.817},
      {"date":"2023-02-27","estimated":0.93,"true":0.93,"lower":0.885,"upper":0.975},
      {"date":"2023-03-06","estimated":0.723,"true":0.723,"lower":0.683,"upper":0.763},
      {"date":"2023-03-13","estimated":0.902,"true":0.902,"lower":0.857,"upper":0.947},
      {"date":"2023-03-20","estimated":0.691,"true":0.691,"lower":0.656,"upper":0.726},
      {"date":"2023-03-27","estimated":0.465,"true":0.465,"lower":0.43,"upper":0.5},
      {"date":"2023-04-03","estimated":0.527,"true":0.527,"lower":0.492,"upper":0.562},
      {"date":"2023-04-10","estimated":0.539,"true":0.539,"lower":0.499,"upper":0.579},
      {"date":"2023-04-17","estimated":0.324,"true":0.324,"lower":0.294,"upper":0.354},
      {"date":"2023-04-24","estimated":0.262,"true":0.262,"lower":0.232,"upper":0.292},
      {"date":"2023-05-01","estimated":0.953,"true":0.953,"lower":0.903,"upper":1.003},
      {"date":"2023-05-08","estimated":0.621,"true":0.621,"lower":0.576,"upper":0.666},
      {"date":"2023-05-15","estimated":0.594,"true":0.594,"lower":0.549,"upper":0.639},
      {"date":"2023-05-22","estimated":0.703,"true":0.703,"lower":0.658,"upper":0.748},
      {"date":"2023-05-29","estimated":0.582,"true":0.582,"lower":0.542,"upper":0.622},
      {"date":"2023-06-05","estimated":0.82,"true":0.82,"lower":0.77,"upper":0.87},
      {"date":"2023-06-12","estimated":0.629,"true":0.629,"lower":0.589,"upper":0.669},
      {"date":"2023-06-19","estimated":0.426,"true":0.426,"lower":0.386,"upper":0.466},
      {"date":"2023-06-26","estimated":0.891,"true":0.891,"lower":0.831,"upper":0.951}
    ]
  },
  "vconcat": [
    {
      "width": 1825,
      "height": 540,
      "title": "Direct (U -> Y)",
      "data": {"name": "direct"},
      "encoding": {
        "x": {
          "field": "date",
          "type": "temporal",
          "title": null,
          "scale": {"type": "utc", "domain": [{"year": 2021, "month": 1, "date": 18, "utc": true}, {"year": 2023, "month": 8, "date": 7, "utc": true}]},
          "axis": {
            "labels": false,
            "values": [
              {"year": 2021, "month": 4, "date": 1, "utc": true}, {"year": 2021, "month": 7, "date": 1, "utc": true},
              {"year": 2021, "month": 10, "date": 1, "utc": true}, {"year": 2022, "month": 1, "date": 1, "utc": true},
              {"year": 2022, "month": 4, "date": 1, "utc": true}, {"year": 2022, "month": 7, "date": 1, "utc": true},
              {"year": 2022, "month": 10, "date": 1, "utc": true}, {"year": 2023, "month": 1, "date": 1, "utc": true},
              {"year": 2023, "month": 4, "date": 1, "utc": true}, {"year": 2023, "month": 7, "date": 1, "utc": true}
            ]
          }
        }
      },
      "layer": [
        {
          "mark": {"type": "area", "fill": "#2a2eec", "fillOpacity": 0.3, "stroke": "#2a2eec", "strokeOpacity": 0.3, "strokeWidth": 2},
          "encoding": {
            "y": {"field": "lower", "type": "quantitative", "scale": {"domain": [-0.0481, 0.9136], "nice": false, "zero": false}, "axis": {"title": "contribution", "values": [0, 0.2, 0.4, 0.6, 0.8], "format": ".1f"}},
            "y2": {"field": "upper"}
          }
        },
        {
          "transform": [{"fold": ["estimated", "true"], "as": ["series", "value"]}],
          "mark": {"type": "line", "strokeWidth": 4.5},
          "encoding": {
            "y": {"field": "value", "type": "quantitative", "scale": {"domain": [-0.0481, 0.9136], "nice": false, "zero": false}, "axis": {"title": "contribution", "values": [0, 0.2, 0.4, 0.6, 0.8], "format": ".1f"}},
            "color": {"field": "series", "type": "nominal", "scale": {"domain": ["estimated", "true"], "range": ["#2a2eec", "#000000"]}, "legend": {"orient": "none", "legendX": 31, "legendY": 31}},
            "strokeDash": {"field": "series", "type": "nominal", "scale": {"domain": ["estimated", "true"], "range": [[1, 0], [14, 7]]}, "legend": {"orient": "none", "legendX": 31, "legendY": 31}}
          }
        }
      ]
    },
    {
      "width": 1825,
      "height": 537,
      "title": "Indirect (U -> D -> Y)",
      "data": {"name": "indirect"},
      "encoding": {
        "x": {
          "field": "date",
          "type": "temporal",
          "title": null,
          "scale": {"type": "utc", "domain": [{"year": 2021, "month": 1, "date": 18, "utc": true}, {"year": 2023, "month": 8, "date": 7, "utc": true}]},
          "axis": {
            "labels": false,
            "values": [
              {"year": 2021, "month": 4, "date": 1, "utc": true}, {"year": 2021, "month": 7, "date": 1, "utc": true},
              {"year": 2021, "month": 10, "date": 1, "utc": true}, {"year": 2022, "month": 1, "date": 1, "utc": true},
              {"year": 2022, "month": 4, "date": 1, "utc": true}, {"year": 2022, "month": 7, "date": 1, "utc": true},
              {"year": 2022, "month": 10, "date": 1, "utc": true}, {"year": 2023, "month": 1, "date": 1, "utc": true},
              {"year": 2023, "month": 4, "date": 1, "utc": true}, {"year": 2023, "month": 7, "date": 1, "utc": true}
            ]
          }
        }
      },
      "layer": [
        {
          "mark": {"type": "area", "fill": "#fa7c17", "fillOpacity": 0.3, "stroke": "#fa7c17", "strokeOpacity": 0.3, "strokeWidth": 2},
          "encoding": {
            "y": {"field": "lower", "type": "quantitative", "scale": {"domain": [-0.0223, 0.4714], "nice": false, "zero": false}, "axis": {"title": "contribution", "values": [0, 0.1, 0.2, 0.3, 0.4], "format": ".1f"}},
            "y2": {"field": "upper"}
          }
        },
        {
          "transform": [{"fold": ["estimated", "true"], "as": ["series", "value"]}],
          "mark": {"type": "line", "strokeWidth": 4.5},
          "encoding": {
            "y": {"field": "value", "type": "quantitative", "scale": {"domain": [-0.0223, 0.4714], "nice": false, "zero": false}, "axis": {"title": "contribution", "values": [0, 0.1, 0.2, 0.3, 0.4], "format": ".1f"}},
            "color": {"field": "series", "type": "nominal", "scale": {"domain": ["estimated", "true"], "range": ["#fa7c17", "#000000"]}, "legend": {"orient": "none", "legendX": 31, "legendY": 31}},
            "strokeDash": {"field": "series", "type": "nominal", "scale": {"domain": ["estimated", "true"], "range": [[1, 0], [14, 7]]}, "legend": {"orient": "none", "legendX": 31, "legendY": 31}}
          }
        }
      ]
    },
    {
      "width": 1825,
      "height": 534,
      "title": "Total upper-funnel effect",
      "data": {"name": "total"},
      "encoding": {
        "x": {
          "field": "date",
          "type": "temporal",
          "title": null,
          "scale": {"type": "utc", "domain": [{"year": 2021, "month": 1, "date": 18, "utc": true}, {"year": 2023, "month": 8, "date": 7, "utc": true}]},
          "axis": {
            "format": "%Y-%m",
            "labelPadding": 8,
            "values": [
              {"year": 2021, "month": 4, "date": 1, "utc": true}, {"year": 2021, "month": 7, "date": 1, "utc": true},
              {"year": 2021, "month": 10, "date": 1, "utc": true}, {"year": 2022, "month": 1, "date": 1, "utc": true},
              {"year": 2022, "month": 4, "date": 1, "utc": true}, {"year": 2022, "month": 7, "date": 1, "utc": true},
              {"year": 2022, "month": 10, "date": 1, "utc": true}, {"year": 2023, "month": 1, "date": 1, "utc": true},
              {"year": 2023, "month": 4, "date": 1, "utc": true}, {"year": 2023, "month": 7, "date": 1, "utc": true}
            ]
          }
        }
      },
      "layer": [
        {
          "mark": {"type": "area", "fill": "#c10c90", "fillOpacity": 0.3, "stroke": "#c10c90", "strokeOpacity": 0.3, "strokeWidth": 2},
          "encoding": {
            "y": {"field": "lower", "type": "quantitative", "scale": {"domain": [-0.052, 1.1992], "nice": false, "zero": false}, "axis": {"title": "contribution", "values": [0, 0.25, 0.5, 0.75, 1.0], "format": ".2f"}},
            "y2": {"field": "upper"}
          }
        },
        {
          "transform": [{"fold": ["estimated", "true"], "as": ["series", "value"]}],
          "mark": {"type": "line", "strokeWidth": 4.5},
          "encoding": {
            "y": {"field": "value", "type": "quantitative", "scale": {"domain": [-0.052, 1.1992], "nice": false, "zero": false}, "axis": {"title": "contribution", "values": [0, 0.25, 0.5, 0.75, 1.0], "format": ".2f"}},
            "color": {"field": "series", "type": "nominal", "scale": {"domain": ["estimated", "true"], "range": ["#c10c90", "#000000"]}, "legend": {"orient": "none", "legendX": 31, "legendY": 31}},
            "strokeDash": {"field": "series", "type": "nominal", "scale": {"domain": ["estimated", "true"], "range": [[1, 0], [14, 7]]}, "legend": {"orient": "none", "legendX": 31, "legendY": 31}}
          }
        }
      ]
    }
  ],
  "spacing": 12,
  "resolve": {
    "scale": {"color": "independent", "strokeDash": "independent", "y": "independent"},
    "legend": {"color": "independent", "strokeDash": "independent"}
  },
  "config": {
    "font": "DejaVu Sans",
    "view": {"fill": "#eeeeee", "stroke": null},
    "title": {"fontSize": 44, "fontWeight": "normal", "color": "#262626", "offset": 12},
    "axis": {
      "grid": true,
      "gridColor": "#ffffff",
      "gridWidth": 2,
      "domain": false,
      "ticks": false,
      "tickSize": 0,
      "labelFontSize": 38,
      "labelColor": "#262626",
      "labelOverlap": false,
      "labelFlush": false,
      "titleFontSize": 41,
      "titleFontWeight": "normal",
      "titleColor": "#262626"
    },
    "axisY": {"labelPadding": 13, "titlePadding": 14},
    "legend": {
      "title": null,
      "symbolType": "stroke",
      "symbolSize": 6400,
      "symbolStrokeWidth": 4.5,
      "labelFontSize": 38,
      "labelColor": "#262626",
      "labelLimit": 500,
      "labelOffset": 27,
      "rowPadding": 17,
      "clipHeight": 40,
      "padding": 0
    }
  }
}
